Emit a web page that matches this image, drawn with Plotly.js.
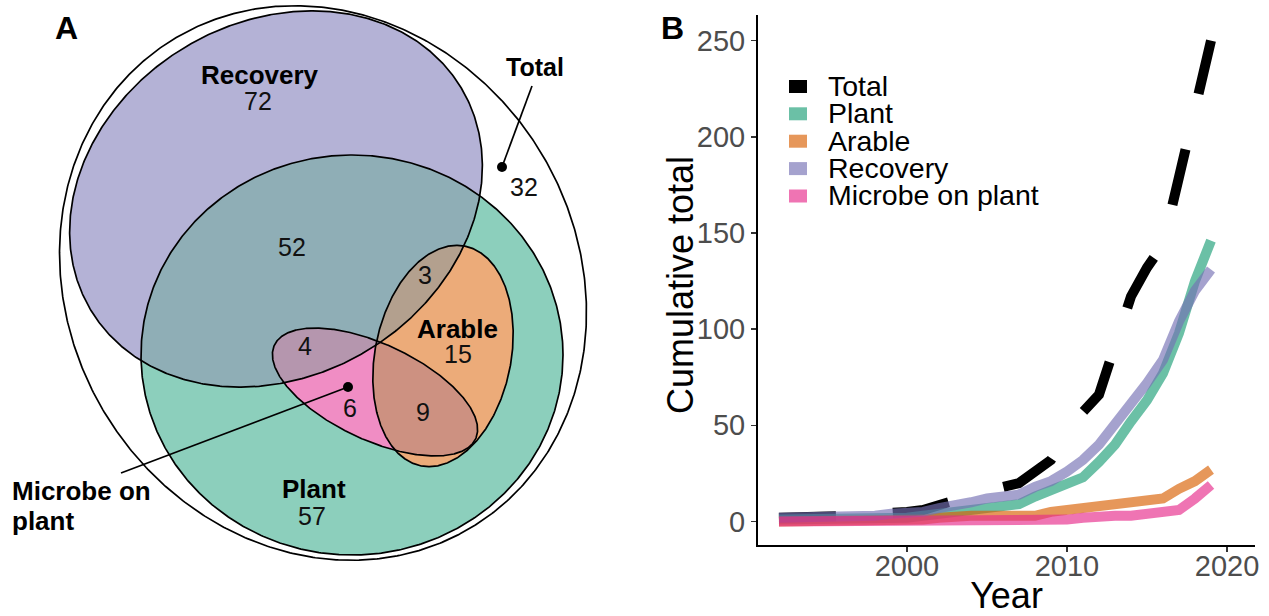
<!DOCTYPE html>
<html>
<head>
<meta charset="utf-8">
<script src="https://cdn.plot.ly/plotly-3.0.1.min.js"></script>
<style>html,body{margin:0;padding:0;background:#fff;}#chart{width:1269px;height:616px;}</style>
</head>
<body>
<div id="chart"></div>
<script>
// ---------------- DATA ----------------
const years = [1992,1993,1994,1995,1996,1997,1998,1999,2000,2001,2002,2003,2004,2005,2006,2007,2008,2009,2010,2011,2012,2013,2014,2015,2016,2017,2018,2019];
const totalCum    = [2,2,3,3,3,3,4,4,5,6,9,11,13,16,18,20,26,32,44,57,66,90,117,132,144,179,217,250];
const plantCum    = [1,1,1,1,1,1,1,2,2,3,4,5,6,8,9,9,13,16,20,23,31,40,52,63,77,98,125,146];
const arableCum   = [0,0,0,0,0,0,0,0,1,1,2,3,3,3,3,3,3,5,6,7,8,10,11,12,12,17,21,27];
const recoveryCum = [2,2,2,3,3,3,3,4,4,5,7,8,10,12,13,14,18,21,26,32,40,50,61,72,84,104,120,131];
const microbeCum  = [0,0,0,0,0,0,0,0,0,0,0,0,0,0,0,0,0,0,1,2,3,3,3,4,5,6,12,19];
const seriesNames = ['Total','Plant','Arable','Recovery','Microbe on plant'];
const xTickVals = [2000,2010,2020];
const yTickVals = [0,50,100,150,200,250];

// Euler diagram region counts
const regionNames  = ['Recovery only','Recovery & Plant','Recovery & Arable','Recovery & Microbe','Microbe only','Microbe & Arable','Arable only','Plant only','Other'];
const regionCounts = [72,52,3,4,6,9,15,57,32];
const setNames = ['Recovery','Arable','Plant'];

// ---------------- STYLE / GEOMETRY ----------------
const W = 1269, H = 616;
const FONT = 'Liberation Sans, Arial, Helvetica, sans-serif';
const lineColors = ['#000000','#1b9e77','#d95f02','#7570b3','#e7298a'];
const lineOpacity = [1,0.65,0.65,0.65,0.65];

// ellipse geometry (panel A pixel space)
const ell = {
  Total:    {cx:323, cy:283, a:286, b:254, rot:57.8},
  Recovery: {cx:276, cy:199, a:216, b:177, rot:-31},
  Plant:    {cx:352, cy:355, a:211, b:200, rot:0},
  Arable:   {cx:443, cy:356, a:112, b:68,  rot:-78.7},
  Microbe:  {cx:375, cy:392, a:111, b:48,  rot:25}
};
const regionColor = {
  Total:'#ffffff', Recovery:'#b4b2d6', Plant:'#8ccfbc', RP:'#8faeb6',
  Arable:'#ecab79', Microbe:'#f08dc4', RA:'#b3a08e', MA:'#cd9181', MR:'#b596ae'
};
// label positions for region counts (same order as regionNames)
const countPos = [[258,101],[292,247],[425,275],[305,346],[350,408],[423,412],[458,354],[312,516],[524,187]];
const setLabelPos = {Recovery:[260,75], Arable:[457,329], Plant:[314,489]};

// ---------------- HELPERS ----------------
const px = x => x / W;
const py = y => 1 - y / H;
function ellPts(e, n) {
  n = n || 720;
  const th = e.rot * Math.PI / 180, c = Math.cos(th), s = Math.sin(th);
  const xs = [], ys = [];
  for (let i = 0; i <= n; i++) {
    const t = 2 * Math.PI * i / n;
    const u = e.a * Math.cos(t), v = e.b * Math.sin(t);
    xs.push(e.cx + u * c - v * s);
    ys.push(e.cy + u * s + v * c);
  }
  return {xs, ys};
}
function inside(e, x, y) {
  const th = e.rot * Math.PI / 180, c = Math.cos(th), s = Math.sin(th);
  const dx = x - e.cx, dy = y - e.cy;
  const u = dx * c + dy * s, v = -dx * s + dy * c;
  return (u * u) / (e.a * e.a) + (v * v) / (e.b * e.b) <= 1;
}
function intersect(e1, e2) {
  const p1 = ellPts(e1), p2 = ellPts(e2);
  const pts = [];
  for (let i = 0; i < p1.xs.length; i++) if (inside(e2, p1.xs[i], p1.ys[i])) pts.push([p1.xs[i], p1.ys[i]]);
  for (let i = 0; i < p2.xs.length; i++) if (inside(e1, p2.xs[i], p2.ys[i])) pts.push([p2.xs[i], p2.ys[i]]);
  const mx = pts.reduce((s, p) => s + p[0], 0) / pts.length;
  const my = pts.reduce((s, p) => s + p[1], 0) / pts.length;
  pts.sort((p, q) => Math.atan2(p[1] - my, p[0] - mx) - Math.atan2(q[1] - my, q[0] - mx));
  pts.push(pts[0]);
  return {xs: pts.map(p => p[0]), ys: pts.map(p => p[1])};
}
function fillTrace(poly, color) {
  return {type:'scatter', mode:'lines', x:poly.xs, y:poly.ys, fill:'toself', fillcolor:color,
          line:{width:0, color:color}, xaxis:'x2', yaxis:'y2', hoverinfo:'skip', showlegend:false};
}
function outlineTrace(poly) {
  return {type:'scatter', mode:'lines', x:poly.xs, y:poly.ys, line:{width:1.7, color:'#000'},
          xaxis:'x2', yaxis:'y2', hoverinfo:'skip', showlegend:false};
}

// ---------------- PANEL A TRACES ----------------
const traces = [];
traces.push(fillTrace(ellPts(ell.Total), regionColor.Total));
traces.push(fillTrace(ellPts(ell.Recovery), regionColor.Recovery));
traces.push(fillTrace(ellPts(ell.Plant), regionColor.Plant));
traces.push(fillTrace(intersect(ell.Recovery, ell.Plant), regionColor.RP));
traces.push(fillTrace(ellPts(ell.Arable), regionColor.Arable));
traces.push(fillTrace(ellPts(ell.Microbe), regionColor.Microbe));
traces.push(fillTrace(intersect(ell.Recovery, ell.Arable), regionColor.RA));
traces.push(fillTrace(intersect(ell.Microbe, ell.Arable), regionColor.MA));
traces.push(fillTrace(intersect(ell.Microbe, ell.Recovery), regionColor.MR));
['Total','Recovery','Plant','Arable','Microbe'].forEach(k => traces.push(outlineTrace(ellPts(ell[k]))));
// callout dots
traces.push({type:'scatter', mode:'markers', x:[502,348], y:[167,387], xaxis:'x2', yaxis:'y2',
  marker:{size:10, color:'#000'}, hoverinfo:'skip', showlegend:false});

// ---------------- PANEL B TRACES ----------------
const seriesData = [totalCum, plantCum, arableCum, recoveryCum, microbeCum];
seriesNames.forEach((name, i) => {
  traces.push({
    type:'scatter', mode:'lines', name:name, x:years, y:seriesData[i],
    xaxis:'x', yaxis:'y', opacity:lineOpacity[i],
    line:{color:lineColors[i], width:10, dash: i === 0 ? '57px,57px' : 'solid', shape:'linear'},
    showlegend:false, hoverinfo:'x+y+name'
  });
});

// ---------------- ANNOTATIONS / SHAPES ----------------
const annotations = [];
const shapes = [];
// panel letters
annotations.push({text:'<b>A</b>', x:px(66), y:py(28), xref:'paper', yref:'paper', showarrow:false,
  xanchor:'center', yanchor:'middle', font:{family:FONT, size:32, color:'#000'}});
annotations.push({text:'<b>B</b>', x:px(672), y:py(28), xref:'paper', yref:'paper', showarrow:false,
  xanchor:'center', yanchor:'middle', font:{family:FONT, size:32, color:'#000'}});
// y axis title
annotations.push({text:'Cumulative total', x:px(680), y:py(285), xref:'paper', yref:'paper', showarrow:false,
  textangle:-90, xanchor:'center', yanchor:'middle', font:{family:FONT, size:36, color:'#000'}});
// region counts
regionCounts.forEach((c, i) => {
  annotations.push({text:String(c), x:countPos[i][0], y:countPos[i][1], xref:'x2', yref:'y2', showarrow:false,
    xanchor:'center', yanchor:'middle', font:{family:FONT, size:25, color:'#111'}});
});
// set labels
setNames.forEach(n => {
  annotations.push({text:'<b>' + n + '</b>', x:setLabelPos[n][0], y:setLabelPos[n][1], xref:'x2', yref:'y2',
    showarrow:false, xanchor:'center', yanchor:'middle', font:{family:FONT, size:26, color:'#000'}});
});
annotations.push({text:'<b>Total</b>', x:535, y:67, xref:'x2', yref:'y2', showarrow:false,
  xanchor:'center', yanchor:'middle', font:{family:FONT, size:25, color:'#000'}});
annotations.push({text:'<b>Microbe on</b>', x:10, y:491, xref:'x2', yref:'y2', showarrow:false,
  xanchor:'left', yanchor:'middle', font:{family:FONT, size:26, color:'#000'}});
annotations.push({text:'<b>plant</b>', x:10, y:521, xref:'x2', yref:'y2', showarrow:false,
  xanchor:'left', yanchor:'middle', font:{family:FONT, size:26, color:'#000'}});
// callout lines
shapes.push({type:'line', xref:'x2', yref:'y2', x0:502, y0:167, x1:532, y1:86, line:{color:'#000', width:1.7}});
shapes.push({type:'line', xref:'x2', yref:'y2', x0:348, y0:387, x1:121, y1:473, line:{color:'#000', width:1.7}});

// manual legend: keys as shapes, labels as one multi-line text block (tight ggplot-like spacing)
const legRows = [86.5, 113.8, 141.2, 168.6, 196];
seriesNames.forEach((n, i) => {
  shapes.push({type:'rect', xref:'paper', yref:'paper', x0:px(789), x1:px(807), y0:py(legRows[i] + 6.5), y1:py(legRows[i] - 6.5),
    fillcolor:lineColors[i], opacity:lineOpacity[i], line:{width:0}});
});
annotations.push({
  text: seriesNames.map(n => '<span style="font-size:28.5px">' + n + '</span>').join('<br>'),
  x:px(826), y:py(legRows[2] - 1), xref:'paper', yref:'paper', showarrow:false,
  xanchor:'left', yanchor:'middle', align:'left', font:{family:FONT, size:21, color:'#000'}
});

// ---------------- LAYOUT ----------------
const layout = {
  width:W, height:H, margin:{l:0, r:0, t:0, b:0}, paper_bgcolor:'#fff', plot_bgcolor:'rgba(0,0,0,0)',
  showlegend:false,
  xaxis:{domain:[758/W, 1255/W], range:[1990.69, 2021.75], tickvals:xTickVals, ticks:'outside', ticklen:5,
    tickwidth:1.5, tickcolor:'#333', showline:true, linecolor:'#000', linewidth:2, showgrid:false, zeroline:false,
    ticklabelstandoff:-11,
    tickfont:{family:FONT, size:29, color:'#4d4d4d'},
    title:{text:'Year', font:{family:FONT, size:36, color:'#000'}, standoff:18}, anchor:'y'},
  yaxis:{domain:[(H-545)/H, (H-15)/H], range:[-12.2, 263.3], tickvals:yTickVals, ticks:'outside', ticklen:5,
    tickwidth:1.5, tickcolor:'#333', showline:true, linecolor:'#000', linewidth:2, showgrid:false, zeroline:false,
    tickfont:{family:FONT, size:29, color:'#4d4d4d'}, anchor:'x'},
  xaxis2:{domain:[0, 640/W], range:[0, 640], visible:false, fixedrange:true, anchor:'y2'},
  yaxis2:{domain:[0, 1], range:[616, 0], visible:false, fixedrange:true, anchor:'x2'},
  annotations:annotations, shapes:shapes
};

Plotly.newPlot('chart', traces, layout, {displayModeBar:false, staticPlot:true});
</script>
</body>
</html>
